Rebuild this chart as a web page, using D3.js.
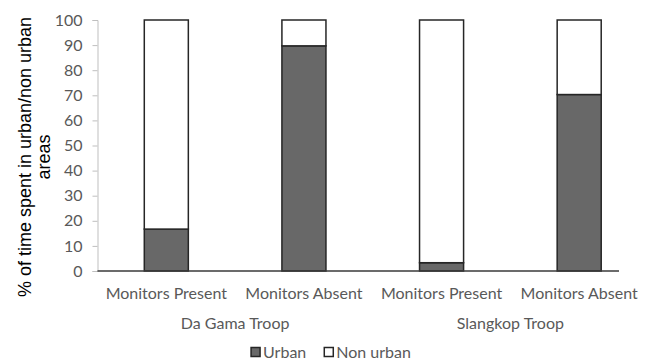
<!DOCTYPE html>
<html>
<head>
<meta charset="utf-8">
<script src="https://cdn.jsdelivr.net/npm/d3@7"></script>
<style>
  body { margin: 0; background: #fff; }
  svg { display: block; }
</style>
</head>
<body>
<div id="chart"></div>
<script>
let width = 652;
let height = 360;

// data
let conditions = ["Monitors Present", "Monitors Absent", "Monitors Present", "Monitors Absent"];
let troops = ["Da Gama Troop", "Slangkop Troop"];
let urban = [16.7, 89.7, 3.3, 70.3];
let nonUrban = urban.map(v => 100 - v);
let seriesNames = ["Urban", "Non urban"];
let seriesColours = ["#686868", "#ffffff"];
let yTicks = [0, 10, 20, 30, 40, 50, 60, 70, 80, 90, 100];

let margin = {left: 97.5, top: 20, bottom: 89};
let labelFont = "Lato, sans-serif";

let svg = d3.select("#chart").append("svg")
    .attr("width", width)
    .attr("height", height);

let x = d3.scaleBand()
    .domain(d3.range(conditions.length))
    .range([margin.left, 648])
    .paddingInner(0.68)
    .paddingOuter(0.34);

let y = d3.scaleLinear()
    .domain([0, 100])
    .range([height - margin.bottom, margin.top]);

// y axis
let yAxis = svg.append("g")
    .attr("transform", `translate(${margin.left},0)`)
    .call(d3.axisLeft(y).tickValues(yTicks).tickSize(5).tickPadding(10));
yAxis.select(".domain").attr("stroke", "#bfbfbf").attr("stroke-width", 1);
yAxis.selectAll(".tick line").attr("stroke", "#bfbfbf");
yAxis.selectAll(".tick text")
    .attr("fill", "#595959")
    .style("font-family", labelFont)
    .style("font-size", "16px");

// stacked bars
let stacked = conditions.map((c, i) => ({i: i, urban: urban[i], non: nonUrban[i]}));
let stack = d3.stack().keys(["urban", "non"])(stacked);

svg.append("g").selectAll("g")
    .data(stack)
    .enter().append("g")
        .attr("fill", (d, k) => seriesColours[k])
        .selectAll("rect")
        .data(d => d)
        .enter().append("rect")
            .attr("x", d => x(d.data.i))
            .attr("y", d => y(d[1]))
            .attr("width", x.bandwidth())
            .attr("height", d => y(d[0]) - y(d[1]))
            .attr("stroke", "#262626")
            .attr("stroke-width", 1.5);

// baseline
svg.append("line")
    .attr("x1", margin.left)
    .attr("x2", 619)
    .attr("y1", y(0))
    .attr("y2", y(0))
    .attr("stroke", "#3a3a3a")
    .attr("stroke-width", 1.5);

// category labels
svg.append("g").selectAll("text")
    .data(conditions)
    .enter().append("text")
        .attr("x", (d, i) => x(i) + x.bandwidth() / 2)
        .attr("y", 299)
        .attr("text-anchor", "middle")
        .attr("fill", "#595959")
        .style("font-family", labelFont)
        .style("font-size", "16px")
        .text(d => d);

svg.append("g").selectAll("text")
    .data(troops)
    .enter().append("text")
        .attr("x", (d, j) => (x(j * 2) + x(j * 2 + 1) + x.bandwidth()) / 2)
        .attr("y", 329)
        .attr("text-anchor", "middle")
        .attr("fill", "#595959")
        .style("font-family", labelFont)
        .style("font-size", "16px")
        .text(d => d);

// y title
let yTitle = svg.append("text")
    .attr("transform", "translate(31,157) rotate(-90)")
    .attr("text-anchor", "middle")
    .attr("fill", "#000")
    .style("font-family", "Liberation Sans, Arial, sans-serif")
    .style("font-size", "18px");
yTitle.append("tspan").attr("x", 0).attr("dy", 0).text("% of time spent in urban/non urban");
yTitle.append("tspan").attr("x", 0).attr("dy", 19).text("areas");

// legend
let legend = svg.append("g").attr("transform", "translate(0,352)");
let items = legend.selectAll("g")
    .data(seriesNames)
    .enter().append("g");
items.append("rect")
    .attr("y", -4.5)
    .attr("width", 9)
    .attr("height", 9)
    .attr("fill", (d, k) => seriesColours[k])
    .attr("stroke", "#262626")
    .attr("stroke-width", 1.5);
items.append("text")
    .attr("x", 12)
    .attr("y", 5.5)
    .attr("fill", "#595959")
    .style("font-family", labelFont)
    .style("font-size", "16px")
    .text(d => d);
// lay items out side by side, centred like the original
let gap = 18, offs = [], total = 0;
items.each(function() {
    offs.push(total);
    total += 12 + this.querySelector("text").getComputedTextLength() + gap;
});
total -= gap;
let start = 331 - total / 2;
items.attr("transform", (d, k) => `translate(${start + offs[k]},0)`);
</script>
</body>
</html>
